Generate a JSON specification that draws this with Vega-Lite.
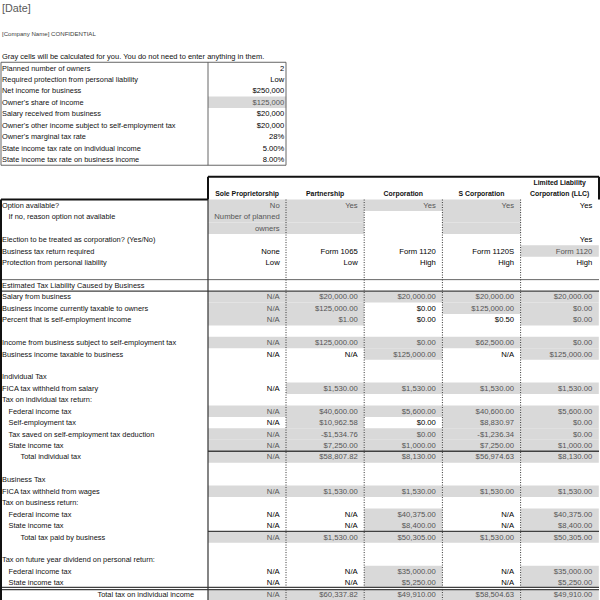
{
  "$schema": "https://vega.github.io/schema/vega-lite/v6.json",
  "width": 600,
  "height": 600,
  "autosize": {"type": "none"},
  "padding": 0,
  "background": "white",
  "config": {"view": {"stroke": null}, "text": {"font": "Liberation Sans", "fontSize": 7.4, "baseline": "middle"}},
  "datasets": {
    "notes": [
      {"r": -5, "c": 0, "t": "[Date]", "k": "date"},
      {"r": -3, "c": 0, "t": "[Company Name] CONFIDENTIAL", "k": "company"},
      {"r": -1, "c": 0, "t": "Gray cells will be calculated for you. You do not need to enter anything in them.", "k": "note"}
    ],
    "labels": [
      {"r": 0, "c": 0, "t": "Planned number of owners", "lv": 0},
      {"r": 1, "c": 0, "t": "Required protection from personal liability", "lv": 0},
      {"r": 2, "c": 0, "t": "Net income for business", "lv": 0},
      {"r": 3, "c": 0, "t": "Owner's share of income", "lv": 0},
      {"r": 4, "c": 0, "t": "Salary received from business", "lv": 0},
      {"r": 5, "c": 0, "t": "Owner's other income subject to self-employment tax", "lv": 0},
      {"r": 6, "c": 0, "t": "Owner's marginal tax rate", "lv": 0},
      {"r": 7, "c": 0, "t": "State income tax rate on individual income", "lv": 0},
      {"r": 8, "c": 0, "t": "State income tax rate on business income", "lv": 0},
      {"r": 12, "c": 0, "t": "Option available?", "lv": 0},
      {"r": 13, "c": 0, "t": "If no, reason option not available", "lv": 1},
      {"r": 15, "c": 0, "t": "Election to be treated as corporation? (Yes/No)", "lv": 0},
      {"r": 16, "c": 0, "t": "Business tax return required", "lv": 0},
      {"r": 17, "c": 0, "t": "Protection from personal liability", "lv": 0},
      {"r": 19, "c": 0, "t": "Estimated Tax Liability Caused by Business", "lv": 0},
      {"r": 20, "c": 0, "t": "Salary from business", "lv": 0},
      {"r": 21, "c": 0, "t": "Business income currently taxable to owners", "lv": 0},
      {"r": 22, "c": 0, "t": "Percent that is self-employment income", "lv": 0},
      {"r": 24, "c": 0, "t": "Income from business subject to self-employment tax", "lv": 0},
      {"r": 25, "c": 0, "t": "Business income taxable to business", "lv": 0},
      {"r": 27, "c": 0, "t": "Individual Tax", "lv": 0},
      {"r": 28, "c": 0, "t": "FICA tax withheld from salary", "lv": 0},
      {"r": 29, "c": 0, "t": "Tax on individual tax return:", "lv": 0},
      {"r": 30, "c": 0, "t": "Federal income tax", "lv": 1},
      {"r": 31, "c": 0, "t": "Self-employment tax", "lv": 1},
      {"r": 32, "c": 0, "t": "Tax saved on self-employment tax deduction", "lv": 1},
      {"r": 33, "c": 0, "t": "State income tax", "lv": 1},
      {"r": 34, "c": 0, "t": "Total individual tax", "lv": 2},
      {"r": 36, "c": 0, "t": "Business Tax", "lv": 0},
      {"r": 37, "c": 0, "t": "FICA tax withheld from wages", "lv": 0},
      {"r": 38, "c": 0, "t": "Tax on business return:", "lv": 0},
      {"r": 39, "c": 0, "t": "Federal income tax", "lv": 1},
      {"r": 40, "c": 0, "t": "State income tax", "lv": 1},
      {"r": 41, "c": 0, "t": "Total tax paid by business", "lv": 2},
      {"r": 43, "c": 0, "t": "Tax on future year dividend on personal return:", "lv": 0},
      {"r": 44, "c": 0, "t": "Federal income tax", "lv": 1},
      {"r": 45, "c": 0, "t": "State income tax", "lv": 1},
      {"r": 46, "c": 0, "t": "Total tax on individual income", "lv": 3}
    ],
    "heads": [
      {"r": 11, "c": 1, "t": "Sole Proprietorship"},
      {"r": 11, "c": 2, "t": "Partnership"},
      {"r": 11, "c": 3, "t": "Corporation"},
      {"r": 11, "c": 4, "t": "S Corporation"},
      {"r": 10, "c": 5, "t": "Limited Liability"},
      {"r": 11, "c": 5, "t": "Corporation (LLC)"}
    ],
    "cells": [
      {"r": 0, "c": 1, "t": "2", "g": 0},
      {"r": 1, "c": 1, "t": "Low", "g": 0},
      {"r": 2, "c": 1, "t": "$250,000", "g": 0},
      {"r": 3, "c": 1, "t": "$125,000", "g": 1},
      {"r": 4, "c": 1, "t": "$20,000", "g": 0},
      {"r": 5, "c": 1, "t": "$20,000", "g": 0},
      {"r": 6, "c": 1, "t": "28%", "g": 0},
      {"r": 7, "c": 1, "t": "5.00%", "g": 0},
      {"r": 8, "c": 1, "t": "8.00%", "g": 0},
      {"r": 12, "c": 1, "t": "No", "g": 1},
      {"r": 12, "c": 2, "t": "Yes", "g": 1},
      {"r": 12, "c": 3, "t": "Yes", "g": 1},
      {"r": 12, "c": 4, "t": "Yes", "g": 1},
      {"r": 12, "c": 5, "t": "Yes", "g": 0},
      {"r": 13, "c": 1, "t": "Number of planned", "g": 1},
      {"r": 13, "c": 2, "t": "", "g": 1},
      {"r": 13, "c": 4, "t": "", "g": 1},
      {"r": 14, "c": 1, "t": "owners", "g": 1},
      {"r": 14, "c": 2, "t": "", "g": 1},
      {"r": 14, "c": 4, "t": "", "g": 1},
      {"r": 15, "c": 5, "t": "Yes", "g": 0},
      {"r": 16, "c": 1, "t": "None", "g": 0},
      {"r": 16, "c": 2, "t": "Form 1065", "g": 0},
      {"r": 16, "c": 3, "t": "Form 1120", "g": 0},
      {"r": 16, "c": 4, "t": "Form 1120S", "g": 0},
      {"r": 16, "c": 5, "t": "Form 1120", "g": 1},
      {"r": 17, "c": 1, "t": "Low", "g": 0},
      {"r": 17, "c": 2, "t": "Low", "g": 0},
      {"r": 17, "c": 3, "t": "High", "g": 0},
      {"r": 17, "c": 4, "t": "High", "g": 0},
      {"r": 17, "c": 5, "t": "High", "g": 0},
      {"r": 20, "c": 1, "t": "N/A", "g": 1},
      {"r": 20, "c": 2, "t": "$20,000.00", "g": 1},
      {"r": 20, "c": 3, "t": "$20,000.00", "g": 1},
      {"r": 20, "c": 4, "t": "$20,000.00", "g": 1},
      {"r": 20, "c": 5, "t": "$20,000.00", "g": 1},
      {"r": 21, "c": 1, "t": "N/A", "g": 1},
      {"r": 21, "c": 2, "t": "$125,000.00", "g": 1},
      {"r": 21, "c": 3, "t": "$0.00", "g": 0},
      {"r": 21, "c": 4, "t": "$125,000.00", "g": 1},
      {"r": 21, "c": 5, "t": "$0.00", "g": 1},
      {"r": 22, "c": 1, "t": "N/A", "g": 1},
      {"r": 22, "c": 2, "t": "$1.00", "g": 1},
      {"r": 22, "c": 3, "t": "$0.00", "g": 0},
      {"r": 22, "c": 4, "t": "$0.50", "g": 0},
      {"r": 22, "c": 5, "t": "$0.00", "g": 1},
      {"r": 24, "c": 1, "t": "N/A", "g": 1},
      {"r": 24, "c": 2, "t": "$125,000.00", "g": 1},
      {"r": 24, "c": 3, "t": "$0.00", "g": 1},
      {"r": 24, "c": 4, "t": "$62,500.00", "g": 1},
      {"r": 24, "c": 5, "t": "$0.00", "g": 1},
      {"r": 25, "c": 1, "t": "N/A", "g": 0},
      {"r": 25, "c": 2, "t": "N/A", "g": 0},
      {"r": 25, "c": 3, "t": "$125,000.00", "g": 1},
      {"r": 25, "c": 4, "t": "N/A", "g": 0},
      {"r": 25, "c": 5, "t": "$125,000.00", "g": 1},
      {"r": 28, "c": 1, "t": "N/A", "g": 0},
      {"r": 28, "c": 2, "t": "$1,530.00", "g": 1},
      {"r": 28, "c": 3, "t": "$1,530.00", "g": 1},
      {"r": 28, "c": 4, "t": "$1,530.00", "g": 1},
      {"r": 28, "c": 5, "t": "$1,530.00", "g": 1},
      {"r": 30, "c": 1, "t": "N/A", "g": 1},
      {"r": 30, "c": 2, "t": "$40,600.00", "g": 1},
      {"r": 30, "c": 3, "t": "$5,600.00", "g": 1},
      {"r": 30, "c": 4, "t": "$40,600.00", "g": 1},
      {"r": 30, "c": 5, "t": "$5,600.00", "g": 1},
      {"r": 31, "c": 1, "t": "N/A", "g": 0},
      {"r": 31, "c": 2, "t": "$10,962.58", "g": 1},
      {"r": 31, "c": 3, "t": "$0.00", "g": 0},
      {"r": 31, "c": 4, "t": "$8,830.97", "g": 1},
      {"r": 31, "c": 5, "t": "$0.00", "g": 1},
      {"r": 32, "c": 1, "t": "N/A", "g": 1},
      {"r": 32, "c": 2, "t": "-$1,534.76", "g": 1},
      {"r": 32, "c": 3, "t": "$0.00", "g": 1},
      {"r": 32, "c": 4, "t": "-$1,236.34", "g": 1},
      {"r": 32, "c": 5, "t": "$0.00", "g": 1},
      {"r": 33, "c": 1, "t": "N/A", "g": 1},
      {"r": 33, "c": 2, "t": "$7,250.00", "g": 1},
      {"r": 33, "c": 3, "t": "$1,000.00", "g": 1},
      {"r": 33, "c": 4, "t": "$7,250.00", "g": 1},
      {"r": 33, "c": 5, "t": "$1,000.00", "g": 1},
      {"r": 34, "c": 1, "t": "N/A", "g": 1},
      {"r": 34, "c": 2, "t": "$58,807.82", "g": 1},
      {"r": 34, "c": 3, "t": "$8,130.00", "g": 1},
      {"r": 34, "c": 4, "t": "$56,974.63", "g": 1},
      {"r": 34, "c": 5, "t": "$8,130.00", "g": 1},
      {"r": 37, "c": 1, "t": "N/A", "g": 1},
      {"r": 37, "c": 2, "t": "$1,530.00", "g": 1},
      {"r": 37, "c": 3, "t": "$1,530.00", "g": 1},
      {"r": 37, "c": 4, "t": "$1,530.00", "g": 1},
      {"r": 37, "c": 5, "t": "$1,530.00", "g": 1},
      {"r": 39, "c": 1, "t": "N/A", "g": 0},
      {"r": 39, "c": 2, "t": "N/A", "g": 0},
      {"r": 39, "c": 3, "t": "$40,375.00", "g": 1},
      {"r": 39, "c": 4, "t": "N/A", "g": 0},
      {"r": 39, "c": 5, "t": "$40,375.00", "g": 1},
      {"r": 40, "c": 1, "t": "N/A", "g": 0},
      {"r": 40, "c": 2, "t": "N/A", "g": 0},
      {"r": 40, "c": 3, "t": "$8,400.00", "g": 1},
      {"r": 40, "c": 4, "t": "N/A", "g": 0},
      {"r": 40, "c": 5, "t": "$8,400.00", "g": 1},
      {"r": 41, "c": 1, "t": "N/A", "g": 1},
      {"r": 41, "c": 2, "t": "$1,530.00", "g": 1},
      {"r": 41, "c": 3, "t": "$50,305.00", "g": 1},
      {"r": 41, "c": 4, "t": "$1,530.00", "g": 1},
      {"r": 41, "c": 5, "t": "$50,305.00", "g": 1},
      {"r": 44, "c": 1, "t": "N/A", "g": 0},
      {"r": 44, "c": 2, "t": "N/A", "g": 0},
      {"r": 44, "c": 3, "t": "$35,000.00", "g": 1},
      {"r": 44, "c": 4, "t": "N/A", "g": 0},
      {"r": 44, "c": 5, "t": "$35,000.00", "g": 1},
      {"r": 45, "c": 1, "t": "N/A", "g": 0},
      {"r": 45, "c": 2, "t": "N/A", "g": 0},
      {"r": 45, "c": 3, "t": "$5,250.00", "g": 1},
      {"r": 45, "c": 4, "t": "N/A", "g": 0},
      {"r": 45, "c": 5, "t": "$5,250.00", "g": 1},
      {"r": 46, "c": 1, "t": "N/A", "g": 1},
      {"r": 46, "c": 2, "t": "$60,337.82", "g": 1},
      {"r": 46, "c": 3, "t": "$49,910.00", "g": 1},
      {"r": 46, "c": 4, "t": "$58,504.63", "g": 1},
      {"r": 46, "c": 5, "t": "$49,910.00", "g": 1}
    ],
    "hlines": [
      {"r": 0, "c": 0, "c1": 2, "k": "thin"},
      {"r": 9, "c": 0, "c1": 2, "k": "thin"},
      {"r": 10, "c": 1, "c1": 6, "k": "thick"},
      {"r": 12, "c": 0, "c1": 1, "k": "thick"},
      {"r": 19, "c": 0, "c1": 6, "k": "thin"},
      {"r": 20, "c": 0, "c1": 6, "k": "med"},
      {"r": 34, "c": 1, "c1": 6, "k": "med"},
      {"r": 41, "c": 1, "c1": 6, "k": "med"},
      {"r": 46, "c": 0, "c1": 6, "k": "double"}
    ],
    "vlines": [
      {"c": 0, "r": 0, "r1": 8, "k": "thin"},
      {"c": 1, "r": 0, "r1": 8, "k": "thin"},
      {"c": 2, "r": 0, "r1": 8, "k": "thin"},
      {"c": 1, "r": 10, "r1": 11, "k": "thick"},
      {"c": 6, "r": 10, "r1": 11, "k": "thick"},
      {"c": 0, "r": 12, "r1": 46, "k": "thick"},
      {"c": 1, "r": 12, "r1": 46, "k": "med"},
      {"c": 2, "r": 12, "r1": 46, "k": "dot"},
      {"c": 3, "r": 12, "r1": 46, "k": "dot"},
      {"c": 4, "r": 12, "r1": 46, "k": "dot"},
      {"c": 5, "r": 12, "r1": 46, "k": "dot"}
    ]
  },
  "encoding": {
    "x": {"field": "c", "type": "quantitative", "axis": null,
          "scale": {"type": "linear", "domain": [0, 1, 2, 3, 4, 5, 6], "range": [1, 208, 286, 364.2, 442.4, 520.6, 599], "nice": false, "zero": false}},
    "y": {"field": "r", "type": "quantitative", "axis": null,
          "scale": {"type": "linear", "domain": [-6, 47], "range": [-0.64, 605.68], "nice": false, "zero": false}}
  },
  "layer": [
    {
      "data": {"name": "cells"},
      "transform": [{"filter": "datum.g == 1"}],
      "mark": {"type": "rect", "fill": "#d9d9d9", "yOffset": -5.72, "y2Offset": 5.72, "x2Offset": 78.2},
      "encoding": {"x2": {"field": "c"}, "y2": {"field": "r"}}
    },
    {
      "data": {"name": "hlines"},
      "transform": [{"filter": "datum.k == 'thin'"}],
      "mark": {"type": "rule", "stroke": "#555555", "strokeWidth": 0.9, "yOffset": -5.72},
      "encoding": {"x2": {"field": "c1"}}
    },
    {
      "data": {"name": "hlines"},
      "transform": [{"filter": "datum.k == 'med'"}],
      "mark": {"type": "rule", "stroke": "#404040", "strokeWidth": 1.3, "yOffset": -5.72},
      "encoding": {"x2": {"field": "c1"}}
    },
    {
      "data": {"name": "hlines"},
      "transform": [{"filter": "datum.k == 'thick'"}],
      "mark": {"type": "rule", "stroke": "#111111", "strokeWidth": 2, "yOffset": -5.72},
      "encoding": {"x2": {"field": "c1"}}
    },
    {
      "data": {"name": "hlines"},
      "transform": [{"filter": "datum.k == 'double'"}],
      "mark": {"type": "rule", "stroke": "#404040", "strokeWidth": 3.4, "yOffset": -5.72},
      "encoding": {"x2": {"field": "c1"}}
    },
    {
      "data": {"name": "hlines"},
      "transform": [{"filter": "datum.k == 'double'"}],
      "mark": {"type": "rule", "stroke": "#ffffff", "strokeWidth": 1.1, "yOffset": -5.72},
      "encoding": {"x2": {"field": "c1"}}
    },
    {
      "data": {"name": "vlines"},
      "transform": [{"filter": "datum.k == 'thin'"}],
      "mark": {"type": "rule", "stroke": "#555555", "strokeWidth": 0.9, "yOffset": -5.72, "y2Offset": 5.72},
      "encoding": {"y2": {"field": "r1"}}
    },
    {
      "data": {"name": "vlines"},
      "transform": [{"filter": "datum.k == 'med'"}],
      "mark": {"type": "rule", "stroke": "#333333", "strokeWidth": 1.2, "yOffset": -5.72, "y2Offset": 5.72},
      "encoding": {"y2": {"field": "r1"}}
    },
    {
      "data": {"name": "vlines"},
      "transform": [{"filter": "datum.k == 'thick'"}],
      "mark": {"type": "rule", "stroke": "#111111", "strokeWidth": 2, "yOffset": -5.72, "y2Offset": 5.72},
      "encoding": {"y2": {"field": "r1"}}
    },
    {
      "data": {"name": "vlines"},
      "transform": [{"filter": "datum.k == 'dot'"}],
      "mark": {"type": "rule", "stroke": "#333333", "strokeWidth": 1, "strokeDash": [1, 1.5], "yOffset": -5.72, "y2Offset": 5.72},
      "encoding": {"y2": {"field": "r1"}}
    },
    {
      "data": {"name": "notes"},
      "transform": [{"filter": "datum.k == 'date'"}],
      "mark": {"type": "text", "align": "left", "dx": 1, "dy": -1.5, "fontSize": 10.8, "fill": "#595959"},
      "encoding": {"text": {"field": "t"}}
    },
    {
      "data": {"name": "notes"},
      "transform": [{"filter": "datum.k == 'company'"}],
      "mark": {"type": "text", "align": "left", "dx": 1, "dy": 0.3, "fontSize": 6.1, "fill": "#404040"},
      "encoding": {"text": {"field": "t"}}
    },
    {
      "data": {"name": "notes"},
      "transform": [{"filter": "datum.k == 'note'"}],
      "mark": {"type": "text", "align": "left", "dx": 1, "dy": 0.3, "fontSize": 7.5, "fill": "#111111"},
      "encoding": {"text": {"field": "t"}}
    },
    {
      "data": {"name": "labels"},
      "transform": [{"filter": "datum.lv == 0"}],
      "mark": {"type": "text", "align": "left", "dx": 1, "dy": 0.5, "fill": "#111111"},
      "encoding": {"text": {"field": "t"}}
    },
    {
      "data": {"name": "labels"},
      "transform": [{"filter": "datum.lv == 1"}],
      "mark": {"type": "text", "align": "left", "dx": 7.5, "dy": 0.5, "fill": "#111111"},
      "encoding": {"text": {"field": "t"}}
    },
    {
      "data": {"name": "labels"},
      "transform": [{"filter": "datum.lv == 2"}],
      "mark": {"type": "text", "align": "left", "dx": 19.5, "dy": 0.5, "fill": "#111111"},
      "encoding": {"text": {"field": "t"}}
    },
    {
      "data": {"name": "labels"},
      "transform": [{"filter": "datum.lv == 3"}],
      "mark": {"type": "text", "align": "left", "dx": 96.5, "dy": 0.5, "fill": "#111111"},
      "encoding": {"text": {"field": "t"}}
    },
    {
      "data": {"name": "heads"},
      "mark": {"type": "text", "align": "center", "xOffset": 39.1, "dy": 0.5, "fontWeight": "bold", "fontSize": 6.9, "fill": "#111111"},
      "encoding": {"text": {"field": "t"}}
    },
    {
      "data": {"name": "cells"},
      "transform": [{"filter": "datum.r < 9"}],
      "mark": {"type": "text", "align": "right", "xOffset": 78.2, "dx": -2, "dy": 0.5, "fontSize": 7.6},
      "encoding": {
        "text": {"field": "t"},
        "fill": {"field": "g", "type": "nominal", "legend": null, "scale": {"domain": [0, 1], "range": ["#000000", "#555555"]}}
      }
    },
    {
      "data": {"name": "cells"},
      "transform": [{"filter": "datum.r >= 9"}],
      "mark": {"type": "text", "align": "right", "xOffset": 78.2, "dx": -6.5, "dy": 0.5, "fontSize": 7.7},
      "encoding": {
        "text": {"field": "t"},
        "fill": {"field": "g", "type": "nominal", "legend": null, "scale": {"domain": [0, 1], "range": ["#000000", "#555555"]}}
      }
    }
  ]
}
